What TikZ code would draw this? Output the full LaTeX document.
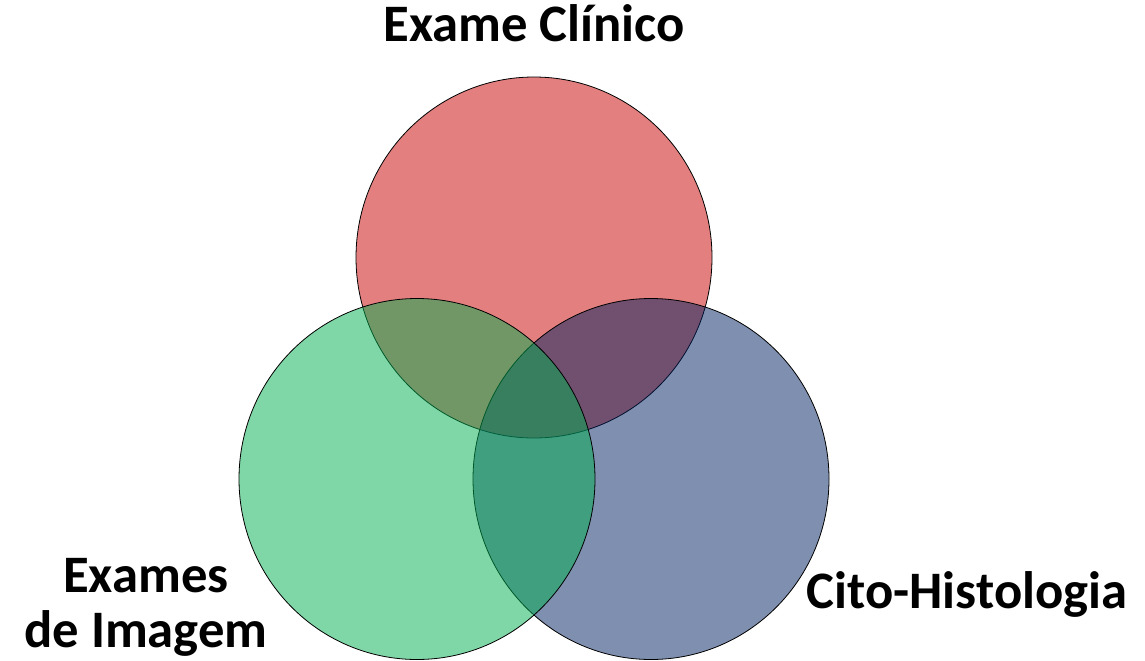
\documentclass[tikz,border=0pt]{standalone}
\usepackage{fontspec}
\setmainfont{Carlito}
\usetikzlibrary{shapes.geometric}
\definecolor{clinicored}{RGB}{200,0,0}
\definecolor{citoblue}{RGB}{0,32,96}
\definecolor{imagemgreen}{RGB}{0,176,80}
\begin{document}
\begin{tikzpicture}[x=0.75pt, y=-0.75pt,
    set/.style = {ellipse,
        draw=black, line width=0.6pt,
        minimum width = 267pt, minimum height = 270.75pt,
        inner sep=0pt, fill opacity=0.5},
    setlabel/.style = {font=\bfseries\fontsize{39.5}{41.25}\selectfont,
        align=center, inner sep=0pt}]

\useasboundingbox (0,0) rectangle (1145,660);

% Set Exame Clinico
\node[set, fill=clinicored] (clinico) at (534,257.5) {};

% Set Cito-Histologia
\node[set, fill=citoblue] (cito) at (651,479) {};

% Set Exames de Imagem
\node[set, fill=imagemgreen] (imagem) at (417,479) {};

% Labels
\node[setlabel, anchor=base] (clinicolabel) at (534,42) {Exame Clínico};
\node[setlabel, anchor=base] (citolabel) at (967,608) {Cito-Histologia};
\node[setlabel, anchor=base] (imagemlabel) at (146,647) {Exames\\de Imagem};

\end{tikzpicture}
\end{document}
